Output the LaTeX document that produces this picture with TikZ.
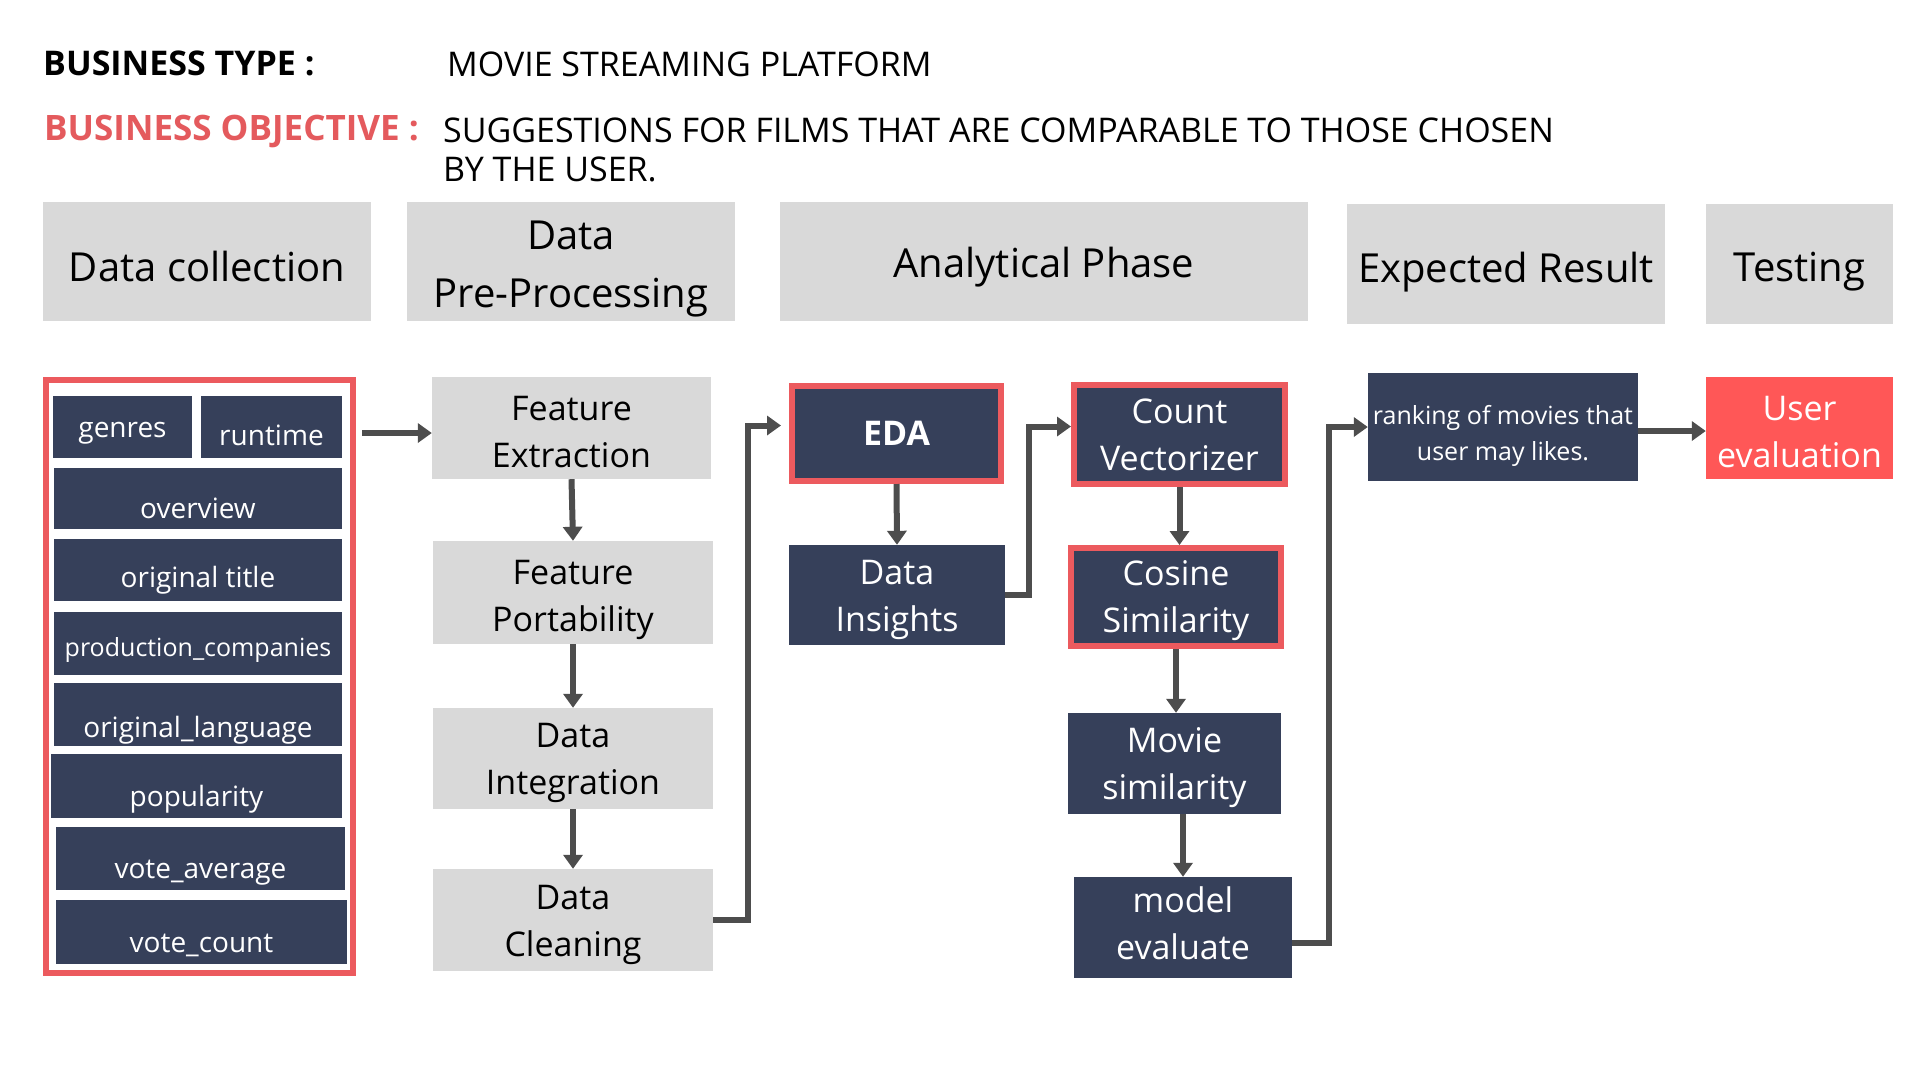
\documentclass[tikz,border=0pt]{standalone}
\usepackage{fontspec}
\setmainfont{Open Sans}
\usetikzlibrary{arrows.meta}

\definecolor{navy}{HTML}{36405A}
\definecolor{greyfill}{HTML}{D9D9D9}
\definecolor{redline}{HTML}{EC5A5E}
\definecolor{redfill}{HTML}{FF5757}
\definecolor{redtitle}{HTML}{E45A5D}
\definecolor{arrowgrey}{HTML}{4D4D4D}

\tikzset{
  phase/.style={fill=greyfill, inner sep=0pt, align=center, font=\fontsize{40}{58}\selectfont},
  greybox/.style={fill=greyfill, inner sep=0pt, align=center, font=\fontsize{34}{47}\selectfont},
  navybox/.style={fill=navy, text=white, inner sep=0pt, align=center, font=\fontsize{34}{47}\selectfont},
  redborder/.style={draw=redline, line width=6pt},
  drop/.style={execute at begin node={\rule{0pt}{#1}}},
  lift/.style={execute at begin node={\rule[-#1]{0pt}{#1}}},
  field/.style={fill=navy, text=white, inner sep=0pt, font=\fontsize{28}{34}\selectfont, text height=39pt, text depth=0pt},
  headline/.style={anchor=base west, inner sep=0pt, font=\fontsize{34}{39}\selectfont},
  flow/.style={draw=arrowgrey, line width=6pt, -{Triangle[length=14pt,width=19pt]}},
}

\begin{document}
\begin{tikzpicture}[x=1pt, y=-1pt]
	\fill[white] (0,0) rectangle (1920,1080);
	\useasboundingbox (0,0) rectangle (1920,1080);

	%business lines
	\node[headline, font=\bfseries\fontsize{34}{39}\selectfont] (btype) at (43,75) {BUSINESS TYPE :};
	\node[headline] (btypeval) at (447,76) {MOVIE STREAMING PLATFORM};
	\node[headline, text=redtitle, font=\bfseries\fontsize{35}{39}\selectfont] (bobj) at (44,140) {BUSINESS OBJECTIVE :};
	\node[headline] (bobjval) at (443,142) {SUGGESTIONS FOR FILMS THAT ARE COMPARABLE TO THOSE CHOSEN};
	\node[headline] (bobjval2) at (443,181) {BY THE USER.};

	%phases
	\node[phase, drop=40pt, minimum width=328pt, minimum height=119pt] (hcollect) at (207,261.5) {Data collection};
	\node[phase, drop=101pt, minimum width=328pt, minimum height=119pt] (hprep) at (571,261.5) {Data\\Pre-Processing};
	\node[phase, drop=42pt, minimum width=528pt, minimum height=119pt] (hanal) at (1044,261.5) {Analytical Phase};
	\node[phase, drop=47pt, minimum width=318pt, minimum height=120pt] (hresult) at (1506,264) {Expected Result};
	\node[phase, drop=45pt, minimum width=187pt, minimum height=120pt] (htest) at (1799.5,264) {Testing};

	%data collection
	\node[redborder, minimum width=307pt, minimum height=593pt] (frame) at (199.5,676.5) {};
	\node[field, minimum width=139pt, minimum height=62pt, text height=20pt] (genres) at (122.5,427) {genres};
	\node[field, minimum width=141pt, minimum height=62pt, text height=36pt] (runtime) at (271.5,427) {runtime};
	\node[field, minimum width=288pt, minimum height=61pt] (overview) at (198,498.5) {overview};
	\node[field, minimum width=288pt, minimum height=62pt, text height=34pt] (otitle) at (198,570) {original title};
	\node[field, minimum width=288pt, minimum height=63pt, font=\fontsize{25}{30}\selectfont, text height=25pt] (companies) at (198,643.5) {production\_companies};
	\node[field, minimum width=288pt, minimum height=63pt, text height=45pt] (language) at (198,714.5) {original\_language};
	\node[field, minimum width=291pt, minimum height=64pt, text height=41pt] (popularity) at (196.5,786) {popularity};
	\node[field, minimum width=289pt, minimum height=63pt] (voteavg) at (200.5,858.5) {vote\_average};
	\node[field, minimum width=291pt, minimum height=64pt, text height=41pt] (votecount) at (201.5,932) {vote\_count};

	%pre-processing
	\node[greybox, drop=79pt, minimum width=279pt, minimum height=102pt] (fext) at (571.5,428) {Feature\\Extraction};
	\node[greybox, drop=87pt, minimum width=280pt, minimum height=103pt] (fport) at (573,592.5) {Feature\\Portability};
	\node[greybox, drop=81pt, minimum width=280pt, minimum height=101pt] (dint) at (573,758.5) {Data\\Integration};
	\node[greybox, drop=82pt, minimum width=280pt, minimum height=102pt] (dclean) at (573,920) {Data\\Cleaning};

	%analytical phase
	\node[navybox, redborder, minimum width=209pt, minimum height=95pt, font=\bfseries\fontsize{34}{47}\selectfont] (eda) at (896.5,433.5) {EDA};
	\node[navybox, drop=81pt, minimum width=216pt, minimum height=100pt] (insights) at (897,595) {Data\\Insights};
	\node[navybox, redborder, minimum width=211pt, minimum height=99pt] (countvec) at (1179.5,434.5) {Count\\Vectorizer};
	\node[navybox, redborder, drop=80pt, minimum width=210pt, minimum height=98pt] (cosine) at (1176,597) {Cosine\\Similarity};
	\node[navybox, drop=80pt, minimum width=213pt, minimum height=101pt] (moviesim) at (1174.5,763.5) {Movie\\similarity};
	\node[navybox, lift=8pt, minimum width=218pt, minimum height=101pt] (modeleval) at (1183,927.5) {model\\evaluate};

	%expected result and testing
	\node[navybox, drop=72pt, minimum width=270pt, minimum height=108pt, font=\fontsize{25}{36}\selectfont] (ranking) at (1503,427) {ranking of movies that\\user may likes.};
	\node[fill=redfill, text=white, inner sep=0pt, align=center, drop=79pt, font=\fontsize{34}{47}\selectfont, minimum width=187pt, minimum height=102pt] (usereval) at (1799.5,428) {User\\evaluation};

	%connectors
	\coordinate (fextin) at ([yshift=-5pt]fext.west);
	\coordinate (frameout) at (frame.east |- fextin);
	\coordinate (rankout) at ([yshift=-4pt]ranking.east);
	\draw[flow] ([xshift=6pt]frameout) -- (fextin);
	\draw[flow] (fext.south) -- (fport.north);
	\draw[flow] (fport.south) -- (dint.north);
	\draw[flow] (dint.south) -- (dclean.north);
	\draw[flow, shorten >=8pt] (dclean.east) -- ++(35,0) |- ([yshift=8pt]eda.west);
	\draw[flow] (eda.south) -- (insights.north);
	\draw[flow] (insights.east) -- ++(24,0) |- ([yshift=8pt]countvec.west);
	\draw[flow] (countvec.south) -- (countvec.south |- cosine.north);
	\draw[flow] (cosine.south) -- (cosine.south |- moviesim.north);
	\draw[flow] (modeleval.north |- moviesim.south) -- (modeleval.north);
	\draw[flow] ([yshift=-15pt]modeleval.east) -- ++(37,0) |- (ranking.west);
	\draw[flow] (rankout) -- (rankout -| usereval.west);
\end{tikzpicture}
\end{document}
